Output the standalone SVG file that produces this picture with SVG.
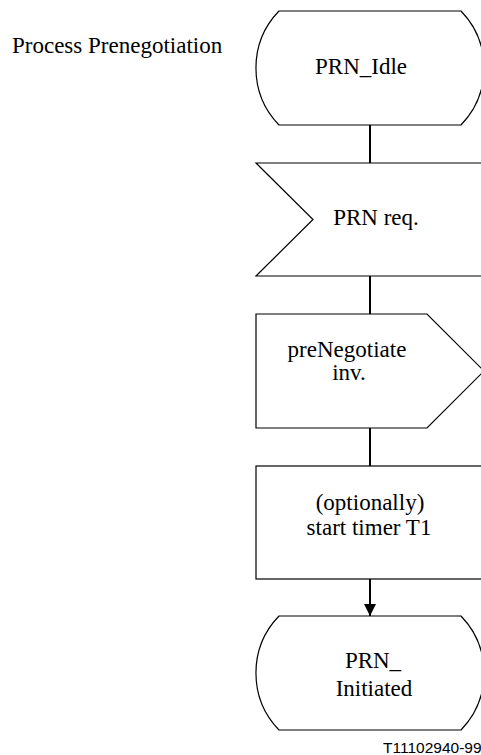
<svg xmlns="http://www.w3.org/2000/svg" width="481" height="755" viewBox="0 0 481 755">
<style>
.shape{fill:#fff;stroke:#000;stroke-width:1.2}
.conn{stroke:#000;stroke-width:2;fill:none}
.t{font-family:"Liberation Serif","Times New Roman",serif;font-size:23px;fill:#000}
.c{text-anchor:middle}
.note{font-family:"Liberation Sans",Arial,sans-serif;font-size:15.5px;fill:#000}
</style>
<defs>
<marker id="arrow" markerUnits="userSpaceOnUse" markerWidth="12" markerHeight="14" refX="12" refY="6" orient="auto">
<path d="M0,0 L12,6 L0,12 Z" fill="#000"/>
</marker>
</defs>
<rect width="481" height="755" fill="#fff"/>
<text class="t" x="12" y="53">Process Prenegotiation</text>
<g id="connectors">
<line class="conn" x1="370" y1="125" x2="370" y2="163"/>
<line class="conn" x1="370" y1="276" x2="370" y2="314"/>
<line class="conn" x1="370" y1="428" x2="370" y2="466"/>
<line class="conn" x1="370" y1="579" x2="370" y2="616" marker-end="url(#arrow)"/>
</g>
<g id="state-idle">
<path class="shape" d="M279,11 H461 A82,82 0 0 1 461,125 H279 A82,82 0 0 1 279,11 Z"/>
<text class="t c" x="361" y="74">PRN_Idle</text>
</g>
<g id="input-prn-req">
<path class="shape" d="M256,163 H486 V276 H256 L313,219.5 Z"/>
<text class="t c" x="376" y="225">PRN req.</text>
</g>
<g id="output-prenegotiate">
<path class="shape" d="M256,314 H427 L484,371 L427,428 H256 Z"/>
<text class="t c" x="347" y="357">preNegotiate</text>
<text class="t c" x="349" y="380">inv.</text>
</g>
<g id="task-timer">
<rect class="shape" x="256" y="466" width="230" height="113"/>
<text class="t c" x="370" y="510">(optionally)</text>
<text class="t c" x="369" y="535">start timer T1</text>
</g>
<g id="state-initiated">
<path class="shape" d="M279,616 H461 A82,82 0 0 1 461,730 H279 A82,82 0 0 1 279,616 Z"/>
<text class="t c" x="373" y="668">PRN_</text>
<text class="t c" x="374" y="696">Initiated</text>
</g>
<text class="note" x="383" y="753">T11102940-99</text>
</svg>
